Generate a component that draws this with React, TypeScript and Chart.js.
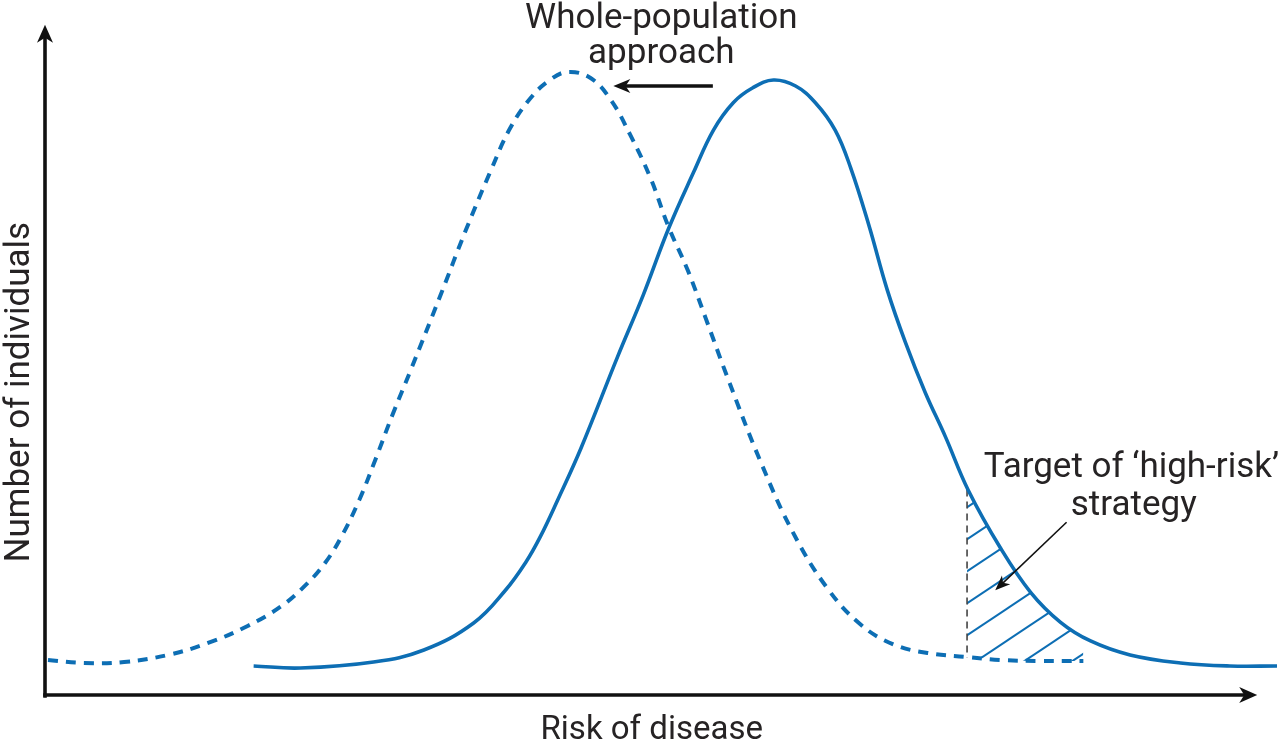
import React, { useEffect, useRef } from "react";
import { Chart, registerables } from "chart.js";

Chart.register(...registerables);

// Risk of disease (x) and number of individuals (y)
const solidRisk = [17.4, 21.3, 27.4, 31.6, 35.75, 38.4, 40.1, 41.3, 42.75, 44.7, 47.75, 49.9, 52, 54.1, 55.75, 57.4, 59, 60.75, 62.6, 64.25, 65.9, 67.2, 68.7, 70.25, 71.75, 73.4, 75.1, 77, 79.7, 82.2, 84.7, 87.2, 90.5, 94.7, 98.8, 102.75];
const solidCount = [4.35, 4.05, 4.95, 6.75, 10.8, 15.7, 19.9, 23.7, 29.2, 37.0, 50.7, 60.0, 69.9, 78.4, 84.7, 88.8, 91.0, 92.2, 91.3, 88.8, 84.7, 79.0, 70.5, 60.7, 52.9, 45.4, 38.7, 30.7, 22.0, 15.4, 10.9, 8.1, 6.0, 4.8, 4.35, 4.35];

const shiftedRisk = [0.25, 3.25, 6.6, 10.25, 13.6, 16.9, 19.7, 21.75, 23.4, 24.8, 26.2, 27.6, 29.0, 30.5, 33, 35.1, 37.2, 38.8, 40.5, 42.1, 43.6, 45.5, 47.2, 48.8, 50.5, 52, 53.6, 55.1, 56.9, 59.7, 62.4, 65.25, 68, 70.75, 73.6, 76.9, 79.7, 83, 86.6];
const shiftedCount = [5.25, 4.8, 4.95, 6.0, 7.8, 10.35, 13.3, 16.5, 19.9, 24.0, 29.2, 35.5, 42.1, 48.7, 60, 69.7, 78.7, 85.0, 89.5, 92.2, 93.4, 92.5, 89.2, 84.0, 77.5, 70.2, 63.7, 56.5, 47.7, 34.9, 24.3, 16.0, 10.6, 7.6, 6.3, 5.7, 5.25, 5.1, 5.1];

const highRiskRisk = [76.9, 79.7, 82.2, 84.7, 86.6];
const highRiskCount = [30.8, 22.0, 15.4, 10.9, 8.75];

const cutoffRisk = [76.9, 76.9];
const cutoffCount = [30.8, 5.6];

const xAxisTitle = "Risk of disease";
const yAxisTitle = "Number of individuals";
const shiftLabel = ["Whole-population", "approach"];
const targetLabel = ["Target of \u2018high-risk\u2019", "strategy"];

const BLUE = "#0d6eb4";
const INK = "#262324";
const FONT = "Roboto, 'Noto Sans', sans-serif";

const pts = (xs: number[], ys: number[]) => xs.map((x, i) => ({ x, y: ys[i] }));

function drawArrow(
  ctx: CanvasRenderingContext2D,
  x1: number, y1: number, x2: number, y2: number,
  lw: number, headLen: number, headHalf: number, color: string
) {
  const dx = x2 - x1, dy = y2 - y1;
  const len = Math.hypot(dx, dy);
  const ux = dx / len, uy = dy / len;
  const nx = -uy, ny = ux;
  ctx.save();
  ctx.strokeStyle = color;
  ctx.fillStyle = color;
  ctx.lineWidth = lw;
  ctx.lineCap = "butt";
  ctx.beginPath();
  ctx.moveTo(x1, y1);
  ctx.lineTo(x2 - ux * headLen * 0.6, y2 - uy * headLen * 0.6);
  ctx.stroke();
  const bx = x2 - ux * headLen, by = y2 - uy * headLen;
  ctx.beginPath();
  ctx.moveTo(x2, y2);
  ctx.lineTo(bx + nx * headHalf, by + ny * headHalf);
  ctx.lineTo(x2 - ux * headLen * 0.72, y2 - uy * headLen * 0.72);
  ctx.lineTo(bx - nx * headHalf, by - ny * headHalf);
  ctx.closePath();
  ctx.fill();
  ctx.restore();
}

const annotations = {
  id: "annotations",
  afterDraw(chart: any) {
    const { ctx } = chart;
    const xs = chart.scales.x, ys = chart.scales.y;
    const px = (v: number) => xs.getPixelForValue(v);
    const py = (v: number) => ys.getPixelForValue(v);
    ctx.save();
    // axes with arrowheads
    drawArrow(ctx, px(0), py(-0.4), px(0), py(100.5), 3.6, 18, 8, "#111");
    drawArrow(ctx, px(-0.15), py(0), px(101.1), py(0), 3.6, 18, 8, "#111");
    // annotation arrows
    drawArrow(ctx, px(55.7), py(91.3), px(47.4), py(91.3), 3.4, 17, 7, "#111");
    drawArrow(ctx, px(85.2), py(25.9), px(79.25), py(15.7), 1.6, 15, 6, "#111");

    ctx.fillStyle = INK;
    ctx.textBaseline = "alphabetic";
    ctx.textAlign = "center";
    ctx.font = `400 35px ${FONT}`;
    ctx.fillText(shiftLabel[0], px(51.4), py(100));
    ctx.fillText(shiftLabel[1], px(51.4), py(94.75));
    ctx.fillText(targetLabel[0], px(90.6), py(32.7));
    ctx.fillText(targetLabel[1], px(90.8), py(27));
    ctx.font = `400 33px ${FONT}`;
    ctx.fillText(xAxisTitle, px(50.6), py(-6.6));
    ctx.save();
    ctx.font = `400 35px ${FONT}`;
    ctx.translate(px(-1.35), py(45.4));
    ctx.rotate(-Math.PI / 2);
    ctx.fillText(yAxisTitle, 0, 0);
    ctx.restore();
    ctx.restore();
  },
};

function makeHatch(color: string) {
  const c = document.createElement("canvas");
  c.width = 48;
  c.height = 32;
  const g = c.getContext("2d")!;
  g.strokeStyle = color;
  g.lineWidth = 2;
  for (const off of [-32, 0, 32]) {
    g.beginPath();
    g.moveTo(-10, 32 + off + (10 * 2) / 3);
    g.lineTo(58, 32 + off - (58 * 2) / 3);
    g.stroke();
  }
  return g.createPattern(c, "repeat");
}

export default function App() {
  const ref = useRef<HTMLCanvasElement>(null);
  useEffect(() => {
    if (!ref.current) return;
    const chart = new Chart(ref.current, {
      type: "line",
      data: {
        datasets: [
          {
            label: "Risk distribution",
            data: pts(solidRisk, solidCount),
            borderColor: BLUE,
            borderWidth: 3.6,
            pointRadius: 0,
            tension: 0.4,
            fill: false,
          },
          {
            label: "Shifted distribution",
            data: pts(shiftedRisk, shiftedCount),
            borderColor: BLUE,
            borderWidth: 4,
            borderDash: [10, 8],
            pointRadius: 0,
            tension: 0.4,
            fill: false,
          },
          {
            label: "Cut-off",
            data: pts(cutoffRisk, cutoffCount),
            borderColor: "#444",
            borderWidth: 1.6,
            borderDash: [7, 5],
            pointRadius: 0,
            tension: 0,
            fill: false,
          },
          {
            label: "High-risk group",
            data: pts(highRiskRisk, highRiskCount),
            borderWidth: 0,
            borderColor: "rgba(0,0,0,0)",
            backgroundColor: makeHatch(BLUE) as any,
            pointRadius: 0,
            tension: 0.4,
            fill: 1,
          },
        ],
      },
      options: {
        responsive: false,
        animation: false,
        layout: { padding: { left: 45, top: 28, right: 0, bottom: 46 } },
        plugins: { legend: { display: false }, tooltip: { enabled: false } },
        scales: {
          x: { type: "linear", min: 0, max: 103, display: false },
          y: { type: "linear", min: 0, max: 100, display: false },
        },
      },
      plugins: [annotations],
    });
    return () => chart.destroy();
  }, []);
  return (
    <div style={{ position: "fixed", left: 0, top: 0, width: 1280, height: 741, background: "#fff" }}>
      <canvas ref={ref} width={1280} height={741} />
    </div>
  );
}
